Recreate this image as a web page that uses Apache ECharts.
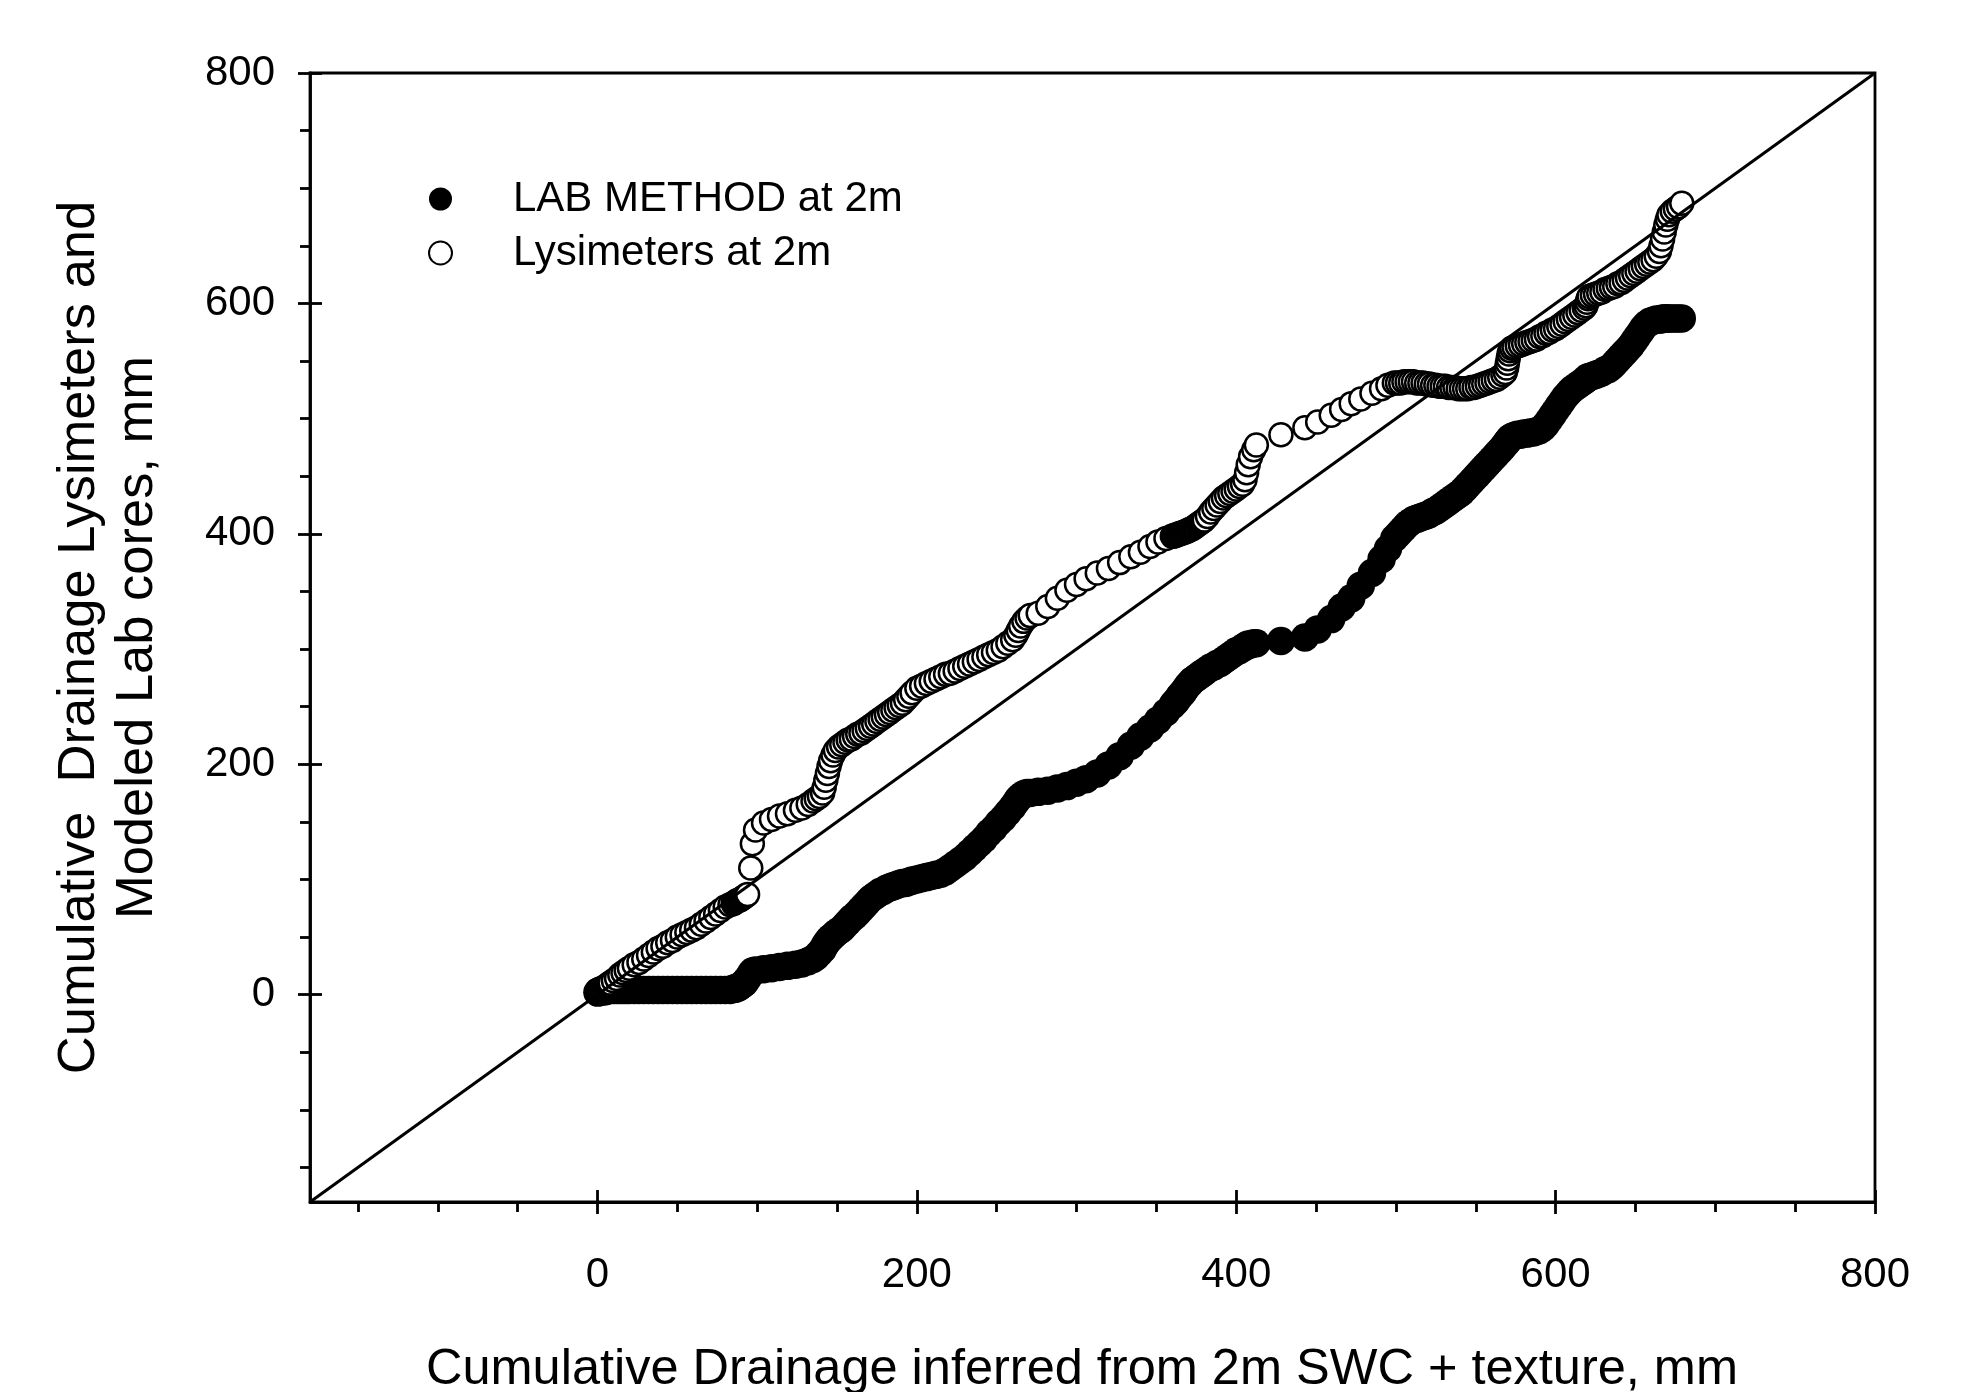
<!DOCTYPE html>
<html>
<head>
<meta charset="utf-8">
<script src="https://cdn.jsdelivr.net/npm/echarts@6/dist/echarts.min.js"></script>
<style>
html,body{margin:0;padding:0;background:#fff;}
#chart{width:1967px;height:1392px;}
</style>
</head>
<body>
<div id="chart"></div>
<script>
// Cumulative drainage inferred from 2m SWC + texture (mm) - shared x values
const inferred = [
  0,0.5,1,1.5,2,3,4,5,6,7,8,10,12,14,16,18,20,
  23,26,29,32,35,38,41,44,47,50,53,56,59,62,65,68,71,74,77,80,83,85,86,87,88,89,90,91,92,93,94,
  96,97,99,
  104,109,114,119,124,128,132,135,137,139,141,
  142,143,144,145,146,147.5,149,151,
  153,155,157,159,161,163,165,167,169,171,173,175,177,179,181,183,185,187,189,191,193,195,
  197,200,203,206,209,212,215,218,221,224,227,230,233,236,239,242,245,248,251,254,257,260,
  262,263.5,265,267,269,271,
  276,282,288,294,300,306,313,320,327,334,340,346,351,356,360,
  361,362,363,364,365,366,367,368,369,370,371,372,373,374,375,376,377,378,379,380,
  382,384,386,388,390,392,394,396,398,400,402,404,405.5,406.5,407.5,409,411,412.6,
  428,443,451,459.5,466,472,478,485,491,495,499,
  501,503,505,507,509,511,513,515,517,519,521,523,525,527,529,531,533,535,537,539,541,543,545,547,549,551,553,555,557,559,561,563,565,567,568.5,
  569.3,569.8,570.3,570.8,571.5,572.5,
  574,576,578,580,582,584,586,588,590,592,594,596,598,600,602,604,606,608,610,612,614,616,618,
  619,619.7,620.4,621,
  623,625,627,629,631,633,635,637,639,641,643,645,647,649,651,653,655,657,659,661,663,665,
  666,667,668,669,670,671,673,675,677,679
];
// LAB METHOD at 2m (filled circles)
const labMethod = [
  2,2,3,3,3,3,3,3,4,4,4,4,4,4,4,4,4,
  4,4,4,4,4,4,4,4,4,4,4,4,4,4,4,4,4,4,4,4,4,5,5,6,6,7,8,9,10,12,14,
  18,20,21,
  22,23,24,25,26,27,29,31,33,36,39,
  42,44,46,48,49,51,53,55,
  57,60,63,66,68,71,74,77,80,83,85,87,89,90,92,93,94,95,96,97,97,98,
  99,100,101,102,103,104,105,107,110,113,116,119,123,127,131,135,140,144,149,153,158,163,
  167,170,172,174,175,175,
  176,177,179,181,184,187,192,199,207,216,224,231,238,245,251,
  253,254,256,258,260,261,263,265,267,269,270,272,273,274,275,276,277,278,279,280,
  282,284,285,287,288,290,292,294,296,298,299,301,302,303,304,304,305,305,
  307,310,317,326,336,344,355,366,378,387,396,
  399,402,405,408,410,412,413,414,415,416,417,419,420,422,424,426,428,430,432,434,436,439,442,445,448,451,454,457,460,463,466,469,472,475,478,
  479,480,481,482,483,484,
  485,486,486,487,487,488,488,489,490,492,495,499,503,507,511,515,519,522,525,527,529,531,533,
  534,535,536,536,
  537,538,539,540,542,543,545,548,551,554,557,560,563,567,571,575,579,582,584,585,586,586,
  586,587,587,587,587,587,587,587,587,587
];
// Lysimeters at 2m (open circles)
const lysimeters = [
  3,3,4,4,5,5,6,7,8,9,10,12,14,17,19,21,23,
  26,28,31,34,37,40,42,45,47,50,52,54,56,58,61,64,67,70,73,76,78,79,80,81,82,82,83,84,85,86,87,
  110,131,143,
  149,152,155,157,160,162,165,168,170,172,175,
  180,186,192,198,203,208,212,215,
  217,219,221,222,224,226,227,229,231,233,235,237,239,241,243,245,247,249,251,253,256,259,
  262,266,268,270,272,274,276,278,279,281,283,285,287,289,291,293,295,297,299,302,305,308,
  312,316,320,324,327,329,
  331,337,344,351,356,361,366,370,375,380,384,389,393,396,398,
  398,399,399,400,400,401,401,402,402,403,404,404,405,406,407,408,409,410,411,412,
  415,419,422,425,428,431,433,435,437,439,441,443,447,453,460,467,473,477,
  486,492,497,503,508,513,517,522,526,529,531,
  531,531,532,532,532,532,531,531,531,530,530,529,529,528,528,528,527,527,527,526,526,526,526,527,527,528,529,530,531,532,533,534,536,538,540,
  544,548,552,556,559,561,
  562,563,564,565,566,567,568,569,571,572,574,575,577,578,580,582,584,586,588,590,592,594,596,
  598,601,604,606,
  607,608,609,610,612,613,614,615,617,618,620,622,624,626,628,630,632,634,636,638,641,645,
  650,656,662,668,673,677,680,682,684,687
];
const seriesNames = ['LAB METHOD at 2m', 'Lysimeters at 2m'];
const majorTicks = [0, 200, 400, 600, 800];
const minorTicks = [-150, -100, -50, 50, 100, 150, 250, 300, 350, 450, 500, 550, 650, 700, 750];
const axisMin = -180, axisMax = 800;
const identityLine = [[-180, -180], [800, 800]];
const xTitle = 'Cumulative Drainage inferred from 2m SWC + texture, mm';
const yTitle = 'Cumulative  Drainage Lysimeters and\nModeled Lab cores, mm';

const FONT = '"Liberation Sans", Arial, Helvetica, sans-serif';
const lineStyle = {color: '#000', width: 2.8};

function makeAxes(dim) {
  const pos = dim === 'x' ? 'bottom' : 'left';
  const base = () => ({
    type: 'value', min: axisMin, max: axisMax, position: pos, offset: 0,
    splitLine: {show: false}, minorSplitLine: {show: false},
    axisLine: {show: false, onZero: false},
    axisLabel: {show: false},
    axisTick: {show: false}
  });
  const main = base();
  main.axisLine = {show: true, onZero: false, lineStyle: lineStyle};
  main.axisTick = {show: true, inside: false, length: 12, customValues: majorTicks, lineStyle: lineStyle};
  main.axisLabel = {
    show: true, customValues: majorTicks, color: '#000', fontSize: 42, fontFamily: FONT,
    margin: dim === 'x' ? 52 : 35
  };
  main.name = dim === 'x' ? xTitle : yTitle;
  main.nameLocation = 'middle';
  main.nameGap = dim === 'x' ? 139 : 143;
  main.nameTextStyle = dim === 'x'
    ? {color: '#000', fontSize: 50.5, fontFamily: FONT, lineHeight: 58, padding: [0, 21, 0, 0]}
    : {color: '#000', fontSize: 52.5, fontFamily: FONT, lineHeight: 58};
  const inner = base();
  inner.axisTick = {show: true, inside: true, length: 12, customValues: majorTicks, lineStyle: lineStyle};
  const minor = base();
  minor.axisTick = {show: true, inside: false, length: 10, customValues: minorTicks, lineStyle: lineStyle};
  return [main, inner, minor];
}

const labData = labMethod.map((y, i) => [inferred[i], y]);
const lysData = lysimeters.map((y, i) => [inferred[i], y]);

const chart = echarts.init(document.getElementById('chart'), null, {renderer: 'canvas'});
chart.setOption({
  animation: false,
  backgroundColor: '#fff',
  grid: {
    left: 310, right: 92, top: 73, bottom: 190,
    outerBoundsMode: 'none', containLabel: false,
    show: true, borderColor: '#000', borderWidth: 2.8, backgroundColor: 'transparent'
  },
  xAxis: makeAxes('x'),
  yAxis: makeAxes('y'),
  legend: {
    data: seriesNames,
    orient: 'vertical',
    left: 423,
    top: 173,
    itemWidth: 23,
    itemHeight: 23,
    itemGap: 12,
    icon: 'circle',
    textStyle: {color: '#000', fontSize: 42, fontFamily: FONT, lineHeight: 42, padding: [0, 0, 0, 56]}
  },
  series: [
    {
      name: seriesNames[0], type: 'scatter', xAxisIndex: 0, yAxisIndex: 0,
      data: labData, symbol: 'circle', symbolSize: 28.5,
      itemStyle: {color: '#000', opacity: 1},
      z: 2
    },
    {
      name: seriesNames[1], type: 'scatter', xAxisIndex: 0, yAxisIndex: 0,
      data: lysData, symbol: 'circle', symbolSize: 23,
      itemStyle: {color: '#fff', borderColor: '#000', borderWidth: 2.5, opacity: 1},
      z: 3
    },
    {
      name: 'identity', type: 'line', xAxisIndex: 0, yAxisIndex: 0,
      data: identityLine, symbol: 'none', silent: true,
      lineStyle: {color: '#000', width: 3},
      z: 4
    }
  ]
});
</script>
</body>
</html>
